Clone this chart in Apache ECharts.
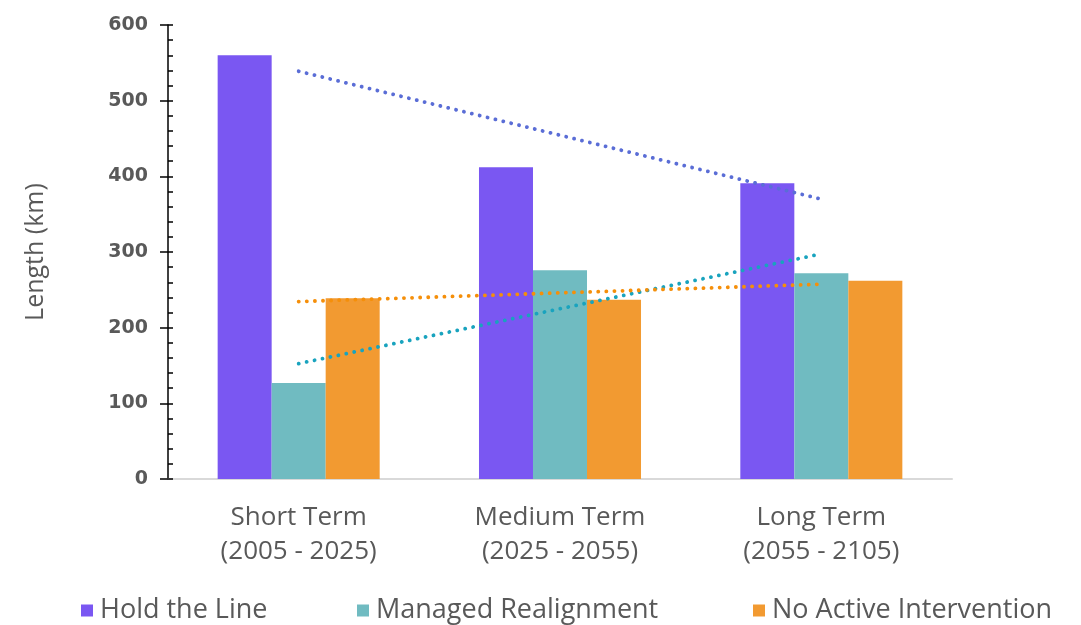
<!DOCTYPE html>
<html>
<head>
<meta charset="utf-8">
<script src="https://cdn.jsdelivr.net/npm/echarts@6/dist/echarts.min.js"></script>
<style>
  html, body { margin: 0; padding: 0; background: #ffffff; }
  #chart { width: 1081px; height: 625px; }
</style>
</head>
<body>
<div id="chart"></div>
<script>
// Shoreline length by management policy and epoch
const categories = ['Short Term\n(2005 - 2025)', 'Medium Term\n(2025 - 2055)', 'Long Term\n(2055 - 2105)'];
const seriesNames = ['Hold the Line', 'Managed Realignment', 'No Active Intervention'];
const holdTheLine = [560, 412, 391];
const managedRealignment = [127, 276, 272];
const noActiveIntervention = [239, 237, 262];

const barColors = ['#7A57F2', '#70BBC1', '#F29A31'];
const trendColors = ['#5A6DD6', '#19A3BE', '#F58F0A'];
const textColor = '#595959';

// Least-squares linear trend over the category positions 1..n
function linearTrend(values) {
  const n = values.length;
  const xs = values.map((_, i) => i + 1);
  const mx = xs.reduce((a, b) => a + b, 0) / n;
  const my = values.reduce((a, b) => a + b, 0) / n;
  let num = 0, den = 0;
  for (let i = 0; i < n; i++) {
    num += (xs[i] - mx) * (values[i] - my);
    den += (xs[i] - mx) * (xs[i] - mx);
  }
  const slope = num / den;
  return xs.map(x => my + slope * (x - mx));
}

const allValues = [holdTheLine, managedRealignment, noActiveIntervention];

const barSeries = allValues.map((vals, i) => ({
  name: seriesNames[i],
  type: 'bar',
  data: vals,
  barGap: '0%',
  barCategoryGap: '38%',
  itemStyle: { color: barColors[i] },
  z: 2
}));

const trendSeries = allValues.map((vals, i) => ({
  name: seriesNames[i] + ' trend',
  type: 'line',
  data: linearTrend(vals),
  symbol: 'none',
  silent: true,
  lineStyle: { color: trendColors[i], width: 3.8, type: [0.1, 8], cap: 'round' },
  z: 5
}));

const legendLefts = [76, 352, 748];
const legends = seriesNames.map((name, i) => ({
  data: [name],
  left: legendLefts[i],
  top: 592,
  itemWidth: 12,
  itemHeight: 12,
  itemGap: 0,
  icon: 'rect',
  textStyle: { color: textColor, fontSize: 27, fontFamily: 'Open Sans', padding: [0, 0, 0, 2] }
}));

const chart = echarts.init(document.getElementById('chart'), null, { renderer: 'canvas' });
chart.setOption({
  animation: false,
  backgroundColor: '#ffffff',
  legend: legends,
  grid: { left: 168, right: 129, top: 25, bottom: 146, containLabel: false },
  xAxis: {
    type: 'category',
    data: categories,
    axisLine: { lineStyle: { color: '#D9D9D9', width: 2 } },
    axisTick: { show: false },
    axisLabel: {
      color: textColor,
      fontSize: 26,
      lineHeight: 34,
      margin: 22,
      fontFamily: 'Open Sans'
    }
  },
  yAxis: [
    {
      type: 'value',
      position: 'left',
      min: 0,
      max: 600,
      interval: 100,
      name: 'Length (km)',
      nameLocation: 'middle',
      nameRotate: 90,
      nameGap: 120,
      nameTextStyle: { color: textColor, fontSize: 25, fontFamily: 'Open Sans' },
      axisLine: { show: true, lineStyle: { color: '#000000', width: 1.5 } },
      axisTick: { show: true, inside: false, length: 8, lineStyle: { color: '#000000', width: 1.5 } },
      axisLabel: { color: textColor, fontSize: 19, fontWeight: 'bold', margin: 20, fontFamily: 'DejaVu Sans' },
      splitLine: { show: false }
    },
    {
      type: 'value',
      position: 'left',
      offset: 0,
      min: 0,
      max: 600,
      interval: 100,
      axisLine: { show: false },
      axisTick: { show: true, inside: true, length: 5, lineStyle: { color: '#000000', width: 1.5 } },
      minorTick: { show: true, splitNumber: 5, length: 5, lineStyle: { color: '#000000', width: 1.5 } },
      axisLabel: { show: false },
      splitLine: { show: false }
    }
  ],
  series: barSeries.concat(trendSeries)
});
</script>
</body>
</html>
